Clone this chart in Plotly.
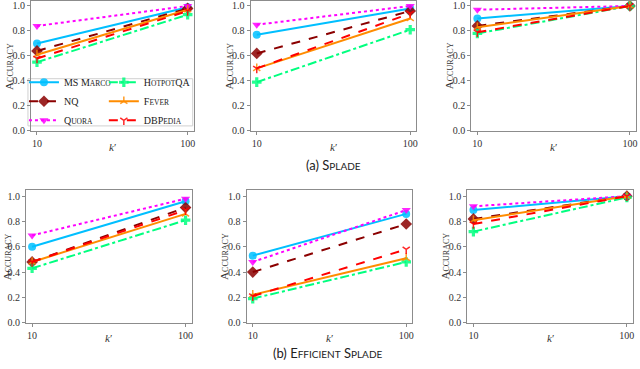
import plotly.graph_objects as go

# k' values on the log x axis
k_values = [10, 100]

datasets = ["MS Marco", "NQ", "Quora", "HotpotQA", "Fever", "DBPedia"]

# (a) Splade, three panels: accuracy at k'=10 and k'=100
splade_1 = {
    "MS Marco": [0.70, 0.99], "NQ": [0.64, 0.98], "Quora": [0.84, 1.00],
    "HotpotQA": [0.55, 0.93], "Fever": [0.61, 0.97], "DBPedia": [0.58, 0.96],
}
splade_2 = {
    "MS Marco": [0.77, 0.98], "NQ": [0.62, 0.96], "Quora": [0.85, 1.00],
    "HotpotQA": [0.39, 0.81], "Fever": [0.50, 0.90], "DBPedia": [0.50, 0.94],
}
splade_3 = {
    "MS Marco": [0.90, 1.00], "NQ": [0.84, 1.00], "Quora": [0.97, 1.00],
    "HotpotQA": [0.78, 1.00], "Fever": [0.83, 1.00], "DBPedia": [0.79, 1.00],
}

# (b) Efficient Splade
eff_splade_1 = {
    "MS Marco": [0.60, 0.96], "NQ": [0.48, 0.91], "Quora": [0.69, 0.98],
    "HotpotQA": [0.43, 0.81], "Fever": [0.48, 0.86], "DBPedia": [0.48, 0.89],
}
eff_splade_2 = {
    "MS Marco": [0.53, 0.86], "NQ": [0.40, 0.78], "Quora": [0.48, 0.89],
    "HotpotQA": [0.19, 0.48], "Fever": [0.22, 0.51], "DBPedia": [0.21, 0.58],
}
eff_splade_3 = {
    "MS Marco": [0.89, 1.00], "NQ": [0.82, 1.00], "Quora": [0.92, 1.00],
    "HotpotQA": [0.72, 0.99], "Fever": [0.81, 1.00], "DBPedia": [0.78, 1.00],
}

W, H = 640, 369
SERIF = "Liberation Serif"
SC = "<span style='font-size:7.5px'>%s</span>"

# legend labels in small caps
labels = {
    "MS Marco": "MS M" + SC % "ARCO",
    "NQ": "NQ",
    "Quora": "Q" + SC % "UORA",
    "HotpotQA": "H" + SC % "OTPOT" + "QA",
    "Fever": "F" + SC % "EVER",
    "DBPedia": "DBP" + SC % "EDIA",
}

styles = {
    "MS Marco": dict(color="#00bfff", dash="solid", symbol="circle", size=8),
    "NQ": dict(color="#8b0000", dash="dash", symbol="diamond", size=9),
    "Quora": dict(color="#ff00ff", dash="dot", symbol="triangle-down", size=8),
    "HotpotQA": dict(color="#00ff7f", dash="dashdot", symbol="cross", size=8),
    "Fever": dict(color="#ff8c00", dash="solid", symbol="y-up", size=6),
    "DBPedia": dict(color="#ff0000", dash="dash", symbol="y-down", size=6),
}

# panel frames in pixels: (left, right, top, bottom)
frames = [
    (31, 194, 1, 133), (251, 417, 1, 133), (472, 637, 1, 133),
    (26, 192, 193, 328), (247, 413, 193, 328), (468, 634, 193, 328),
]
panels = [splade_1, splade_2, splade_3, eff_splade_1, eff_splade_2, eff_splade_3]
y_tops = [1.04, 1.04, 1.04, 1.05, 1.05, 1.05]

fig = go.Figure()
layout = dict(
    width=W, height=H, margin=dict(l=0, r=0, t=0, b=0),
    paper_bgcolor="white", plot_bgcolor="white",
    font=dict(family=SERIF, size=10, color="#333333"),
    annotations=[],
)

for i, (data, (l, r, t, b)) in enumerate(zip(panels, frames)):
    n = "" if i == 0 else str(i + 1)
    layout["xaxis" + n] = dict(
        domain=[l / W, r / W], anchor="y" + n, type="log", range=[0.96, 2.04],
        tickvals=k_values, ticktext=[str(k) for k in k_values],
        showline=True, mirror=True, linecolor="#8c8c8c", linewidth=1,
        ticks="outside", ticklen=3, tickcolor="#8c8c8c", showgrid=False, zeroline=False,
        tickfont=dict(family=SERIF, size=10, color="#333333"),
    )
    layout["yaxis" + n] = dict(
        domain=[1 - b / H, 1 - t / H], anchor="x" + n, range=[0, y_tops[i]],
        tickvals=[0, 0.2, 0.4, 0.6, 0.8, 1.0], tickformat=".1f",
        showline=True, mirror=True, linecolor="#8c8c8c", linewidth=1,
        ticks="outside", ticklen=3, tickcolor="#8c8c8c", showgrid=False, zeroline=False,
        tickfont=dict(family=SERIF, size=10, color="#333333"),
    )
    for name in datasets:
        st = styles[name]
        open_marker = st["symbol"].startswith("y-")
        fig.add_trace(go.Scatter(
            x=k_values, y=data[name], mode="lines+markers",
            name=labels[name], xaxis="x" + n, yaxis="y" + n,
            line=dict(color=st["color"], width=2, dash=st["dash"]),
            marker=dict(symbol=st["symbol"], size=st["size"], color=st["color"],
                        opacity=0.85,
                        line=dict(color=st["color"], width=1.5 if open_marker else 0)),
            showlegend=(i == 0),
            legend="legend" if name in ("MS Marco", "NQ", "Quora") else "legend2",
        ))
    # y title "Accuracy" in small caps
    layout["annotations"].append(dict(
        text="A<span style='font-size:8px'>CCURACY</span>", textangle=-90,
        x=max(l - 22, 7) / W, y=1 - (t + b) / 2 / H, xref="paper", yref="paper",
        xanchor="center", yanchor="middle",
        showarrow=False, font=dict(family=SERIF, size=11, color="#333333"),
    ))
    # x title k'
    layout["annotations"].append(dict(
        text="<i>k</i>′", x=(l + r) / 2 / W, y=1 - (b + 16) / H,
        xref="paper", yref="paper", xanchor="center", yanchor="middle", showarrow=False,
        font=dict(family=SERIF, size=11, color="#333333"),
    ))

# sub-figure captions
CAP = "<span style='font-size:10px'>%s</span>"
layout["annotations"].append(dict(
    text="(a) S" + CAP % "PLADE", x=334 / W, y=1 - 168 / H, xref="paper", yref="paper",
    xanchor="center", yanchor="middle",
    showarrow=False, font=dict(family="Lato", size=13, color="#222222"),
))
layout["annotations"].append(dict(
    text="(b) E" + CAP % "FFICIENT" + " S" + CAP % "PLADE", x=329 / W, y=1 - 359 / H,
    xref="paper", yref="paper", xanchor="center", yanchor="middle", showarrow=False,
    font=dict(family="Lato", size=13, color="#222222"),
))

legend_common = dict(
    orientation="v", yanchor="bottom", xanchor="left", bgcolor="rgba(0,0,0,0)",
    borderwidth=0, tracegroupgap=0, itemwidth=30,
    font=dict(family=SERIF, size=10, color="#222222"),
)
layout["legend"] = dict(legend_common, x=24 / W, y=1 - 137 / H)
layout["legend2"] = dict(legend_common, x=104 / W, y=1 - 137 / H)
layout["shapes"] = [dict(
    type="rect", xref="paper", yref="paper",
    x0=28 / W, x1=193 / W, y0=1 - 128 / H, y1=1 - 80 / H,
    line=dict(color="#d0d0d0", width=1), fillcolor="white", layer="below",
)]

fig.update_layout(**layout)
# plotly's page has the browser's default 8px body margin; drop it
fig.write_html("out.html", config={"displayModeBar": False},
               post_script="document.body.style.margin='0';")
